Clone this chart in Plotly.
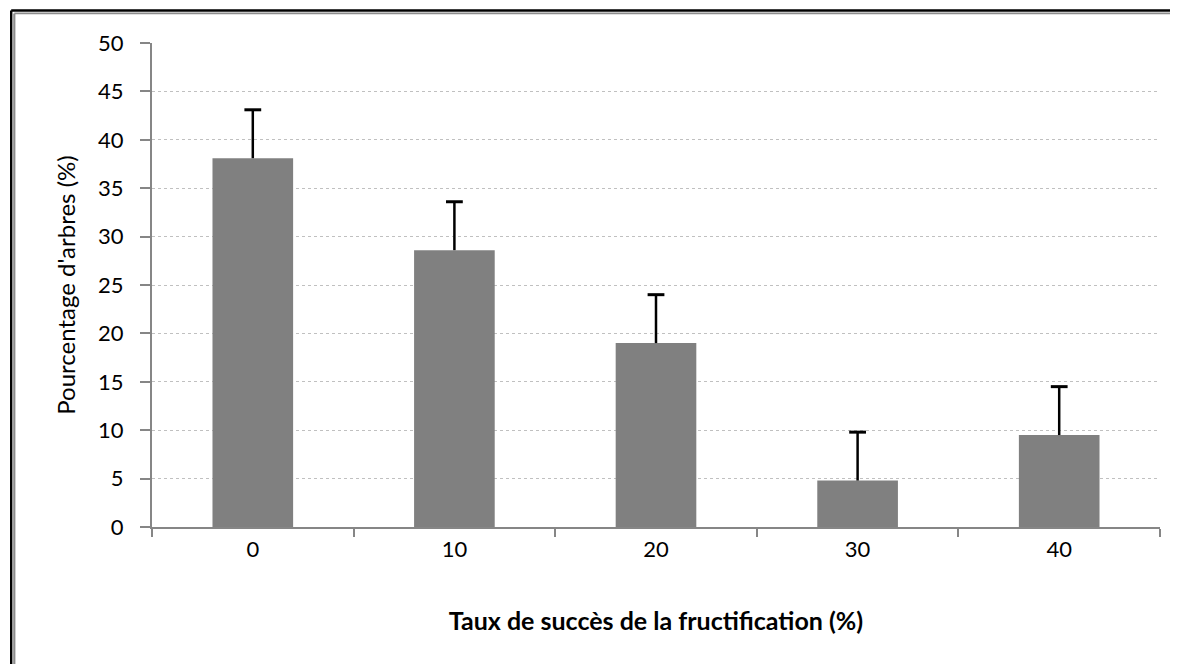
import plotly.graph_objects as go

categories = ["0", "10", "20", "30", "40"]
values = [38.1, 28.6, 19.0, 4.8, 9.5]
errors = [5.0, 5.0, 5.0, 5.0, 5.0]
y_ticks = [0, 5, 10, 15, 20, 25, 30, 35, 40, 45, 50]

# figure sits inside the page's default 8px body margin
W, H = 1170, 656
L, R, T, B = 144, 18, 35, 137
pw, ph = W - L - R, H - T - B

def px_x(px):
    return (px - L) / pw

def px_y(py):
    return (H - B - py) / ph

fig = go.Figure()
fig.add_trace(go.Bar(
    x=categories, y=values,
    marker=dict(color="#808080", line=dict(width=0)),
    width=0.4, hoverinfo="x+y",
))

# one-sided (upper) error bars: stem + cap, built from the data arrays
stem_x, stem_y = [], []
for c, v, e in zip(categories, values, errors):
    stem_x += [c, c, None]
    stem_y += [v, v + e, None]
fig.add_trace(go.Scatter(
    x=stem_x, y=stem_y, mode="lines",
    line=dict(color="black", width=2.5), hoverinfo="skip",
))
fig.add_trace(go.Scatter(
    x=categories, y=[v + e for v, e in zip(values, errors)], mode="markers",
    marker=dict(symbol="line-ew", size=12, line=dict(color="black", width=3)),
    hoverinfo="skip",
))

font_family = "Lato, 'Open Sans', sans-serif"

fig.update_layout(
    width=W, height=H,
    margin=dict(l=L, r=R, t=T, b=B, pad=0),
    paper_bgcolor="white", plot_bgcolor="white",
    showlegend=False,
    font=dict(family=font_family, size=22, color="black"),
    xaxis=dict(
        type="category", showline=True, linecolor="#868686", linewidth=2,
        ticks="outside", tickson="boundaries", ticklen=8, tickcolor="#868686", tickwidth=2,
        showgrid=False, zeroline=False,
        tickfont=dict(size=22), ticklabelstandoff=2,
        title=dict(text="<b>Taux de succès de la fructification (%)</b>", font=dict(size=25), standoff=51),
    ),
    yaxis=dict(
        range=[0, 50], tickvals=y_ticks, showline=True, linecolor="#868686", linewidth=2,
        ticks="outside", ticklen=10, tickcolor="#868686", tickwidth=2,
        showgrid=True, gridcolor="#c0c0c0", griddash="dot", gridwidth=1,
        zeroline=False, tickfont=dict(size=22), ticklabelstandoff=12,
        title=dict(text="Pourcentage d'arbres (%)", font=dict(size=24), standoff=16),
    ),
)

# outer frame (black and gray double line), extending beyond the right/bottom edge
fig.add_shape(type="line", xref="paper", yref="paper",
              x0=px_x(3.2), x1=px_x(1300), y0=px_y(2.5), y1=px_y(2.5),
              line=dict(color="black", width=2.4))
fig.add_shape(type="line", xref="paper", yref="paper",
              x0=px_x(3.2), x1=px_x(3.2), y0=px_y(2.5), y1=px_y(800),
              line=dict(color="black", width=2.4))
fig.add_shape(type="line", xref="paper", yref="paper",
              x0=px_x(6.3), x1=px_x(1300), y0=px_y(5.4), y1=px_y(5.4),
              line=dict(color="#8c8c8c", width=1.6))
fig.add_shape(type="line", xref="paper", yref="paper",
              x0=px_x(6.3), x1=px_x(6.3), y0=px_y(5.4), y1=px_y(800),
              line=dict(color="#8c8c8c", width=2.2))

fig.write_html("out.html")
